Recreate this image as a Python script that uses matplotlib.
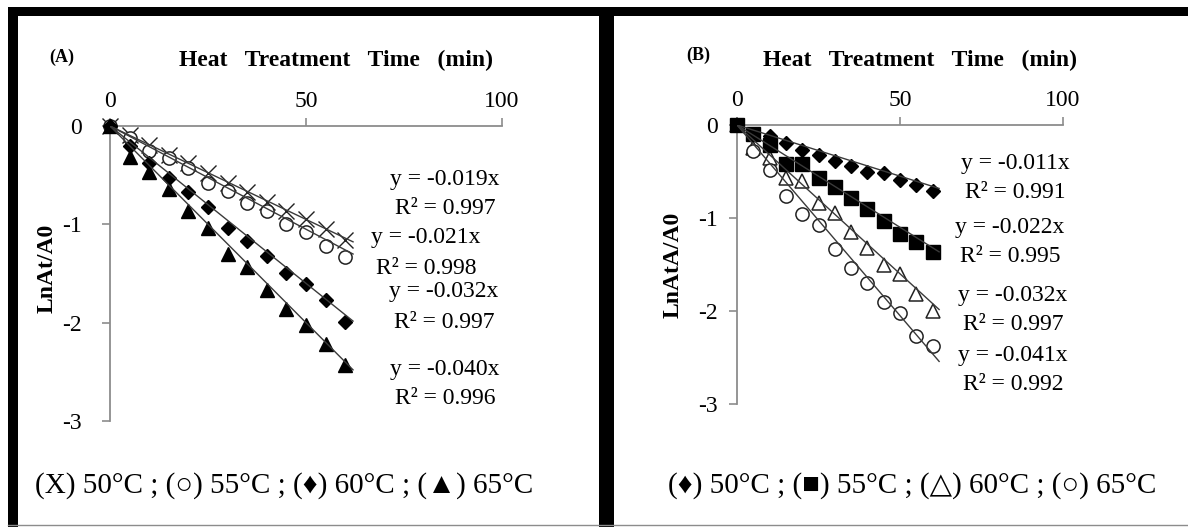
import matplotlib.pyplot as plt
from matplotlib.patches import Rectangle
from matplotlib.lines import Line2D

# heating time (min)
time = [0, 5, 10, 15, 20, 25, 30, 35, 40, 45, 50, 55, 60]

# panel A: LnAt/A0 at 50, 55, 60, 65 C
a_50 = [0, -0.09, -0.19, -0.29, -0.38, -0.48, -0.58, -0.67, -0.77, -0.86, -0.95, -1.05, -1.16]
a_55 = [0, -0.12, -0.25, -0.33, -0.43, -0.58, -0.66, -0.78, -0.86, -1.00, -1.08, -1.22, -1.33]
a_60 = [0, -0.20, -0.38, -0.53, -0.67, -0.82, -1.04, -1.17, -1.32, -1.50, -1.61, -1.77, -1.99]
a_65 = [0, -0.32, -0.47, -0.64, -0.86, -1.04, -1.30, -1.43, -1.67, -1.86, -2.02, -2.22, -2.43]
a_slopes = [-0.019, -0.021, -0.032, -0.040]
a_r2 = [0.997, 0.998, 0.997, 0.996]

# panel B: LnAtA/A0 at 50, 55, 60, 65 C
b_50 = [0, -0.10, -0.12, -0.19, -0.27, -0.32, -0.39, -0.44, -0.50, -0.52, -0.59, -0.64, -0.71]
b_55 = [0, -0.10, -0.21, -0.42, -0.42, -0.57, -0.67, -0.78, -0.90, -1.03, -1.17, -1.26, -1.37]
b_60 = [0, -0.25, -0.35, -0.57, -0.60, -0.84, -0.95, -1.15, -1.32, -1.50, -1.60, -1.82, -2.00]
b_65 = [0, -0.28, -0.48, -0.76, -0.96, -1.08, -1.33, -1.54, -1.70, -1.90, -2.02, -2.27, -2.38]
b_slopes = [-0.011, -0.022, -0.032, -0.041]
b_r2 = [0.991, 0.995, 0.997, 0.992]

W, H = 1188, 527
SERIF = ['Liberation Serif', 'DejaVu Serif']
MIXED = ['Liberation Serif', 'DejaVu Sans']
GRAY = '#8c8c8c'


def fx(px):
    return px / W


def fy(py):
    return 1 - py / H


fig = plt.figure(figsize=(W / 100, H / 100), dpi=100)


def make_axes(x0, x1, y0, y3, ypad):
    ax = fig.add_axes([fx(x0), fy(y3), (x1 - x0) / W, (y3 - y0) / H])
    ax.set_xlim(0, 100)
    ax.set_ylim(-3, 0)
    ax.spines['right'].set_visible(False)
    ax.spines['bottom'].set_visible(False)
    for s in ['top', 'left']:
        ax.spines[s].set_color(GRAY)
        ax.spines[s].set_linewidth(1.3)
    ax.xaxis.tick_top()
    ax.set_xticks([0, 50, 100])
    ax.set_yticks([0, -1, -2, -3])
    ax.set_yticklabels(['0', '-1', '-2', '-3'])
    ax.tick_params(axis='both', direction='out', length=6, width=1.2,
                   color=GRAY, labelsize=17)
    ax.tick_params(axis='x', pad=4)
    ax.tick_params(axis='y', pad=ypad)
    for lab in ax.get_xticklabels() + ax.get_yticklabels():
        lab.set_family(SERIF)
    ax.patch.set_alpha(0)
    return ax


def trend(ax, slope):
    ax.plot([0, 62], [0, slope * 62], color='#3a3a3a', lw=1.0, zorder=5)


# ---- panel A ----
axA = make_axes(110, 502, 126, 421, 14)
axA.plot(time, a_50, ls='none', marker='x', ms=11.5, mew=1.0, color='#222222', zorder=3, clip_on=False)
axA.plot(time, a_55, ls='none', marker='o', ms=9.5, mew=1.1, mfc='white', mec='#222222', zorder=3, clip_on=False)
axA.plot(time, a_60, ls='none', marker='D', ms=7.5, color='black', zorder=4, clip_on=False)
axA.plot(time, a_65, ls='none', marker='^', ms=10.5, color='black', zorder=4, clip_on=False)
for s in a_slopes:
    trend(axA, s)

# ---- panel B ----
axB = make_axes(737, 1063, 125, 404, 8)
axB.plot(time, b_50, ls='none', marker='D', ms=7.5, color='black', zorder=4, clip_on=False)
axB.plot(time, b_55, ls='none', marker='s', ms=10, color='black', zorder=4, clip_on=False)
axB.plot(time, b_60, ls='none', marker='^', ms=10.5, mew=1.1, mfc='white', mec='#222222', zorder=3, clip_on=False)
axB.plot(time, b_65, ls='none', marker='o', ms=9.5, mew=1.1, mfc='white', mec='#222222', zorder=3, clip_on=False)
for s in b_slopes:
    trend(axB, s)

# titles, panel letters, axis labels
title = 'Heat   Treatment   Time   (min)'
fig.text(fx(62), fy(57), '(A)', fontsize=13, fontweight='bold', family=SERIF, ha='center', va='center')
fig.text(fx(698), fy(55), '(B)', fontsize=13, fontweight='bold', family=SERIF, ha='center', va='center')
fig.text(fx(336), fy(60), title, fontsize=17, fontweight='bold', family=SERIF, ha='center', va='center')
fig.text(fx(920), fy(60), title, fontsize=17, fontweight='bold', family=SERIF, ha='center', va='center')
fig.text(fx(47), fy(268), 'LnAt/A0', fontsize=17, fontweight='bold', family=SERIF,
         rotation=90, ha='center', va='center')
fig.text(fx(673), fy(265), 'LnAtA/A0', fontsize=17, fontweight='bold', family=SERIF,
         rotation=90, ha='center', va='center')

# trendline equations
a_pos = [(445, 179, 208), (426, 238, 268), (444, 292, 322), (445, 370, 398)]
for (cx, ye, yr), s, r in zip(a_pos, a_slopes, a_r2):
    fig.text(fx(cx), fy(ye), 'y = %.3fx' % s, fontsize=17, family=SERIF, ha='center', va='center')
    fig.text(fx(cx), fy(yr), 'R² = %.3f' % r, fontsize=17, family=SERIF, ha='center', va='center')
b_pos = [(1015, 163, 193), (1010, 228, 256), (1013, 296, 325), (1013, 356, 385)]
for (cx, ye, yr), s, r in zip(b_pos, b_slopes, b_r2):
    fig.text(fx(cx), fy(ye), 'y = %.3fx' % s, fontsize=17, family=SERIF, ha='center', va='center')
    fig.text(fx(cx), fy(yr), 'R² = %.3f' % r, fontsize=17, family=SERIF, ha='center', va='center')

# symbol keys at the bottom
fig.text(fx(35), fy(486), '(X) 50°C ; (○) 55°C ; (♦) 60°C ; (▲) 65°C', fontsize=21,
         family=MIXED, ha='left', va='center')
fig.text(fx(668), fy(486), '(♦) 50°C ; (■) 55°C ; (△) 60°C ; (○) 65°C', fontsize=21,
         family=MIXED, ha='left', va='center')

# black frame around the panels
for x, y, w, h in [(8, 7, W - 8, 9), (8, 7, 10, H - 7), (599, 7, 15, H - 7)]:
    fig.add_artist(Rectangle((fx(x), fy(y + h)), w / W, h / H, transform=fig.transFigure,
                             facecolor='black', edgecolor='none'))
fig.add_artist(Line2D([fx(8), 1], [fy(525), fy(525)], transform=fig.transFigure, color=GRAY, lw=1))

fig.savefig('out.png', dpi=100)
